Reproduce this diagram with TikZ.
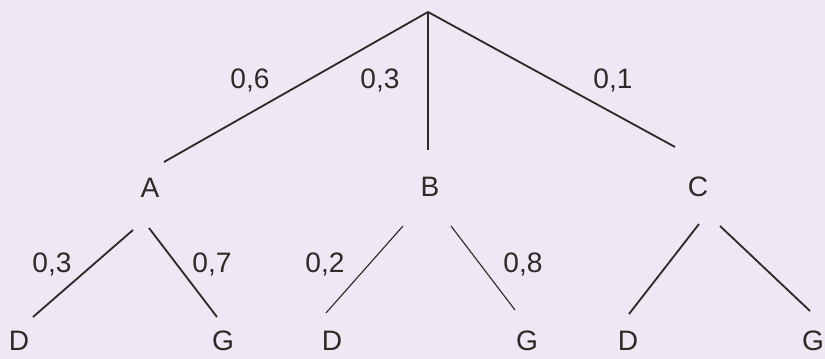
\documentclass[tikz,border=0pt]{standalone}
\usepackage{fontspec}
\setmainfont{Liberation Sans}
\usetikzlibrary{positioning,calc}
\definecolor{paper}{RGB}{237,232,243}
\definecolor{ink}{RGB}{45,42,40}
\tikzset{
  lbl/.style={inner sep=0pt,text depth=0pt,text=ink,font=\fontsize{20}{24}\selectfont},
  branch/.style={draw=ink,line width=1.3pt},
  thinbranch/.style={draw=ink,line width=0.8pt}
}

\begin{document}
\begin{tikzpicture}[x=0.025cm,y=0.025cm]
  \fill[paper] (0,0) rectangle (825,359);
  \useasboundingbox (0,0) rectangle (825,359);
  \coordinate (root) at (428,347);
  \node[lbl] (A) at (150,171) {A};
  \node[lbl] (B) at (430,172) {B};
  \node[lbl] (C) at (698,172) {C};
  \node[lbl] (AD) at (19,18) {D};
  \node[lbl] (AG) at (223,18) {G};
  \node[lbl] (BD) at (332,18) {D};
  \node[lbl] (BG) at (527,18) {G};
  \node[lbl] (CD) at (628,18) {D};
  \node[lbl] (CG) at (813,18) {G};
  \draw[branch] (root) -- ($(A)+(14,26)$);
  \draw[branch] (root) -- ($(B)+(-2,37)$);
  \draw[branch] (root) -- ($(C)+(-23,40)$);
  \node[lbl] (pA) at (250,280) {0,6};
  \node[lbl] (pB) at (380,280) {0,3};
  \node[lbl] (pC) at (613,280) {0,1};
  \draw[branch] ($(A)+(-17,-42)$) -- ($(AD)+(14,24)$);
  \draw[branch] ($(A)+(-1,-40)$) -- ($(AG)+(-6,24)$);
  \draw[thinbranch] ($(B)+(-27,-39)$) -- ($(BD)+(-6,28)$);
  \draw[thinbranch] ($(B)+(21,-39)$) -- ($(BG)+(-12,31)$);
  \draw[branch] ($(C)+(1,-37)$) -- ($(CD)+(1,27)$);
  \draw[branch] ($(C)+(22,-39)$) -- ($(CG)+(-3,30)$);
  \node[lbl] (pAD) at (52,96) {0,3};
  \node[lbl] (pAG) at (212,96) {0,7};
  \node[lbl] (pBD) at (325,96) {0,2};
  \node[lbl] (pBG) at (523,96) {0,8};
\end{tikzpicture}
\end{document}
